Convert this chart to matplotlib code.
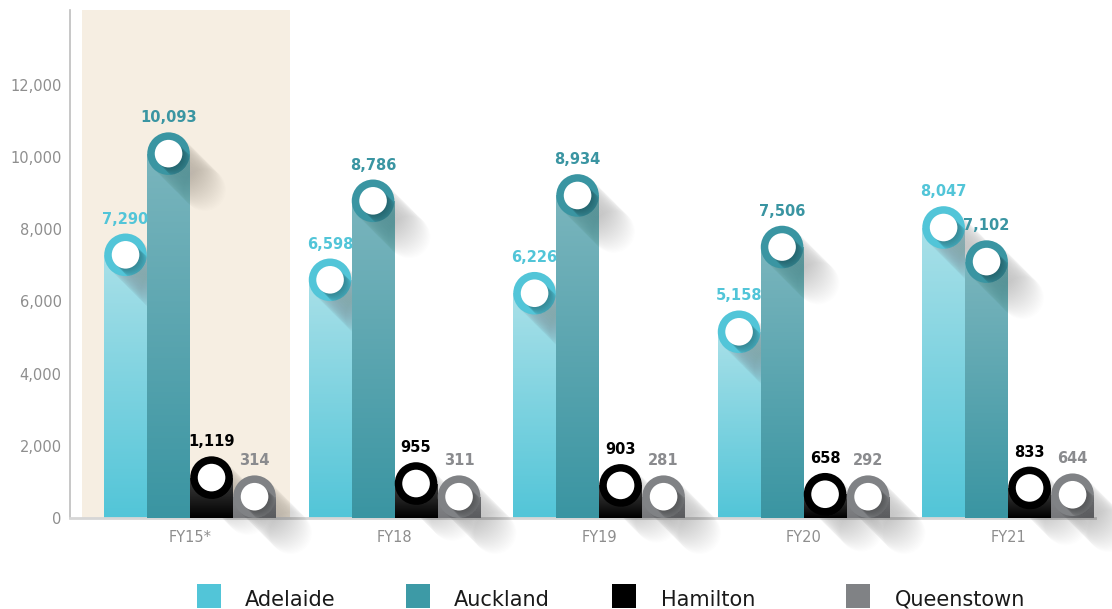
import numpy as np
import matplotlib
matplotlib.use('Agg')
import matplotlib.pyplot as plt
from matplotlib.patches import Ellipse, Rectangle
from matplotlib.colors import LinearSegmentedColormap

# ---------------- data ----------------
years = ['FY15*', 'FY18', 'FY19', 'FY20', 'FY21']
series = ['Adelaide', 'Auckland', 'Hamilton', 'Queenstown']
adelaide = [7290, 6598, 6226, 5158, 8047]
auckland = [10093, 8786, 8934, 7506, 7102]
hamilton = [1119, 955, 903, 658, 833]
queenstown = [314, 311, 281, 292, 644]
yticks = [0, 2000, 4000, 6000, 8000, 10000, 12000]

values = [adelaide, auckland, hamilton, queenstown]

# ---------------- style ----------------
ring_colors = ['#52C5D8', '#3A95A2', '#000000', '#808285']
grad_top = ['#A9E0E8', '#7AB5BD', '#404040', '#86878A']
grad_bot = ['#52C5D8', '#3A95A2', '#000000', '#77787B']
label_colors = ['#52C5D8', '#3A95A2', '#000000', '#8A8B8E']
band_color = '#F6EEE2'

W, H, DPI = 1112, 609, 100
fig = plt.figure(figsize=(W / DPI, H / DPI), dpi=DPI)
fig.patch.set_facecolor('white')
AX_L, AX_R, AX_B, AX_T = 70, 1095, 91, 599
ax = fig.add_axes([AX_L / W, AX_B / H, (AX_R - AX_L) / W, (AX_T - AX_B) / H])
XL = (-0.587, 4.425)
YL = (0, 14072)
ppx = (AX_R - AX_L) / (XL[1] - XL[0])
ppy = (AX_T - AX_B) / (YL[1] - YL[0])

ax.axvspan(-0.53, 0.49, color=band_color, zorder=0, lw=0)

R_PX = 21.3
RI_PX = 13.8
bw = 43 / ppx
x = np.arange(len(years))
r_dx, r_dy = R_PX / ppx, R_PX / ppy
ri_dx, ri_dy = RI_PX / ppx, RI_PX / ppy
s2 = np.sqrt(2)

for i, (vals, name) in enumerate(zip(values, series)):
    z0 = 2 + 6 * i
    xs = x + (i - 1.5) * bw
    centers = [max(v, r_dy) for v in vals]
    cmap = LinearSegmentedColormap.from_list(name, [grad_top[i], grad_bot[i]])
    bars = ax.bar(xs, centers, width=bw, color=grad_bot[i], lw=0, zorder=z0, label=name)
    for b, cx, cy, v in zip(bars, xs, centers, vals):
        # gradient fill
        grad = np.linspace(0, 1, 256).reshape(-1, 1)
        im = ax.imshow(grad, extent=[cx - bw / 2, cx + bw / 2, 0, cy], cmap=cmap,
                       aspect='auto', origin='upper', zorder=z0 + 0.5,
                       interpolation='bilinear')
        im.set_clip_path(b)
        # long shadow of the ring
        for t in np.arange(0, 52, 1.5):
            ax.add_patch(Ellipse((cx + t / s2 / ppx, cy - t / s2 / ppy), 2 * r_dx, 2 * r_dy,
                                 fc='#303030', alpha=0.009, lw=0, zorder=z0 + 1, clip_on=False,
                                 antialiased=True))
        ring = Ellipse((cx, cy), 2 * r_dx, 2 * r_dy, fc=ring_colors[i], lw=0, zorder=z0 + 2)
        ax.add_patch(ring)
        # shadow of the white hole on the ring
        for t in np.arange(0, 16, 1.5):
            e = Ellipse((cx + t / s2 / ppx, cy - t / s2 / ppy), 2 * ri_dx, 2 * ri_dy,
                        fc='#000000', alpha=0.03, lw=0, zorder=z0 + 3)
            ax.add_patch(e)
            e.set_clip_path(ring)
        ax.add_patch(Ellipse((cx, cy), 2 * ri_dx, 2 * ri_dy, fc='white', lw=0, zorder=z0 + 4))
        ax.annotate(f'{v:,}', (cx, cy), xytext=(0, R_PX + 7), textcoords='offset pixels',
                    ha='center', va='bottom', fontsize=10.5, fontweight='bold',
                    color=label_colors[i], zorder=60)

ax.set_xlim(XL)
ax.set_ylim(YL)
ax.set_xticks(x)
ax.set_xticklabels(years)
ax.set_yticks(yticks)
ax.set_yticklabels([f'{t:,}' for t in yticks])
ax.tick_params(axis='both', length=0, colors='#8E8E8E', labelsize=10.5)
ax.tick_params(axis='y', pad=6)
ax.tick_params(axis='x', pad=9)
for s in ['top', 'right']:
    ax.spines[s].set_visible(False)
ax.spines['left'].set_color('#BDBDBD')
ax.spines['left'].set_linewidth(1.2)
ax.spines['bottom'].set_color('#D6D6D6')
ax.spines['bottom'].set_linewidth(2)
ax.set_facecolor('none')

# legend
sq_x = [197, 406, 612, 846]
tx_x = [245, 454, 661, 895]
for i, name in enumerate(series):
    fig.add_artist(Rectangle((sq_x[i] / W, 1 / H), 24 / W, 24 / H, transform=fig.transFigure,
                             fc=ring_colors[i] if i != 1 else '#3D9AA6', lw=0))
    fig.text(tx_x[i] / W, 3 / H, name, fontsize=15, color='#1A1A1A', va='baseline', ha='left')

fig.savefig('out.png', dpi=DPI)
